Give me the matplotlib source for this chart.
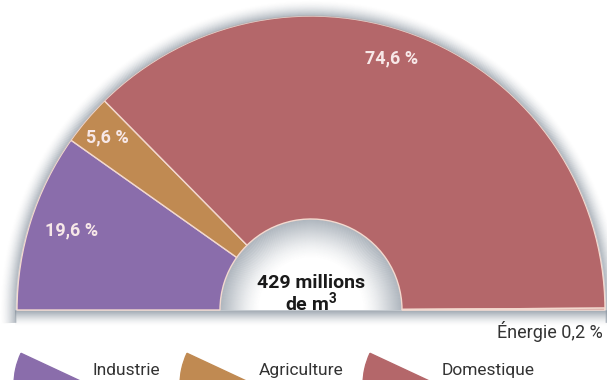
import numpy as np
import matplotlib
matplotlib.use('Agg')
import matplotlib.pyplot as plt
from matplotlib.patches import Wedge, Rectangle

# Data
categories = ['Industrie', 'Agriculture', 'Domestique', 'Énergie']
shares = [19.6, 5.6, 74.6, 0.2]
share_labels = ['19,6 %', '5,6 %', '74,6 %', 'Énergie 0,2 %']
total_lines = ['429 millions', 'de m$\\mathbf{^3}$']
colors = ['#8a6dab', '#c08a52', '#b4676a', '#b4676a']

plt.rcParams['font.family'] = ['Roboto', 'DejaVu Sans']
plt.rcParams['mathtext.fontset'] = 'custom'
plt.rcParams['mathtext.rm'] = 'Roboto'
plt.rcParams['mathtext.bf'] = 'Roboto:bold'

W, H = 607, 380
fig = plt.figure(figsize=(W / 100, H / 100), dpi=100)
ax = fig.add_axes([0, 0, 1, 1])

# geometry of the half donut (pixel units, y up)
cx, cy = 311, 70
R_out, R_in = 294, 91

# half donut: the hidden second half balances the sum to 200
vals = shares + [sum(shares)]
cols = colors + ['none']
wedges, _ = ax.pie(vals, colors=cols, startangle=180, counterclock=False,
                   center=(cx, cy), radius=R_out, frame=True,
                   wedgeprops=dict(width=R_out - R_in, edgecolor='#f3d9cf', linewidth=1))
wedges[-1].set_visible(False)
for w in wedges:
    w.set_zorder(2)

# soft shadow: thin arcs that fade away from the shape
shadow_col = '#87929e'
theta = np.linspace(-0.04, np.pi + 0.04, 500)
n_out, n_in = 16, 40
for i in range(n_out):
    a = 0.5 * (1 - i / n_out) ** 2
    r = R_out + 1.5 + i
    ax.plot(cx + r * np.cos(theta), cy - 1 + r * np.sin(theta),
            color=shadow_col, alpha=a, lw=1.1, solid_capstyle='butt', zorder=2.5)
    ax.add_patch(Rectangle((cx - R_out - 2, cy - i - 1.5), 2 * R_out + 4, 1.5,
                           facecolor=shadow_col, edgecolor='none', alpha=a, zorder=1.5))
theta_in = np.linspace(0, np.pi, 300)
for i in range(n_in):
    a = 0.55 * (1 - i / n_in) ** 1.6
    r = R_in - i
    ax.plot(cx + r * np.cos(theta_in), cy + r * np.sin(theta_in),
            color=shadow_col, alpha=a, lw=1.1, solid_capstyle='butt', zorder=1.5)

# slice labels
label_style = dict(color='#f7e8e8', fontsize=13, fontweight='bold', ha='center', va='center', zorder=3)
ax.text(72, 150, share_labels[0], **label_style)
ax.text(107, 243, share_labels[1], **label_style)
ax.text(392, 322, share_labels[2], **label_style)
ax.text(603, 42, share_labels[3], color='#333333', fontsize=13, ha='right', va='baseline', zorder=3)

# centre total
ax.text(cx, 97, total_lines[0], color='#1a1a1a', fontsize=14, fontweight='bold',
        ha='center', va='center', zorder=3)
ax.text(cx, 78, total_lines[1], color='#1a1a1a', fontsize=14, fontweight='bold',
        ha='center', va='center', zorder=3)

# legend with slice shaped icons
legend_x = [17, 183, 366]
for x0, name, c in zip(legend_x, categories[:3], colors[:3]):
    ax.add_patch(Wedge((x0 + 72, -5), 75, 155, 180, color=c, zorder=3))
    ax.text(x0 + 76, 5, name, color='#333333', fontsize=12.5, ha='left', va='baseline', zorder=3)

ax.set_xlim(0, W)
ax.set_ylim(0, H)
ax.set_aspect('auto')
ax.axis('off')

fig.savefig('out.png', dpi=100, facecolor='white')
